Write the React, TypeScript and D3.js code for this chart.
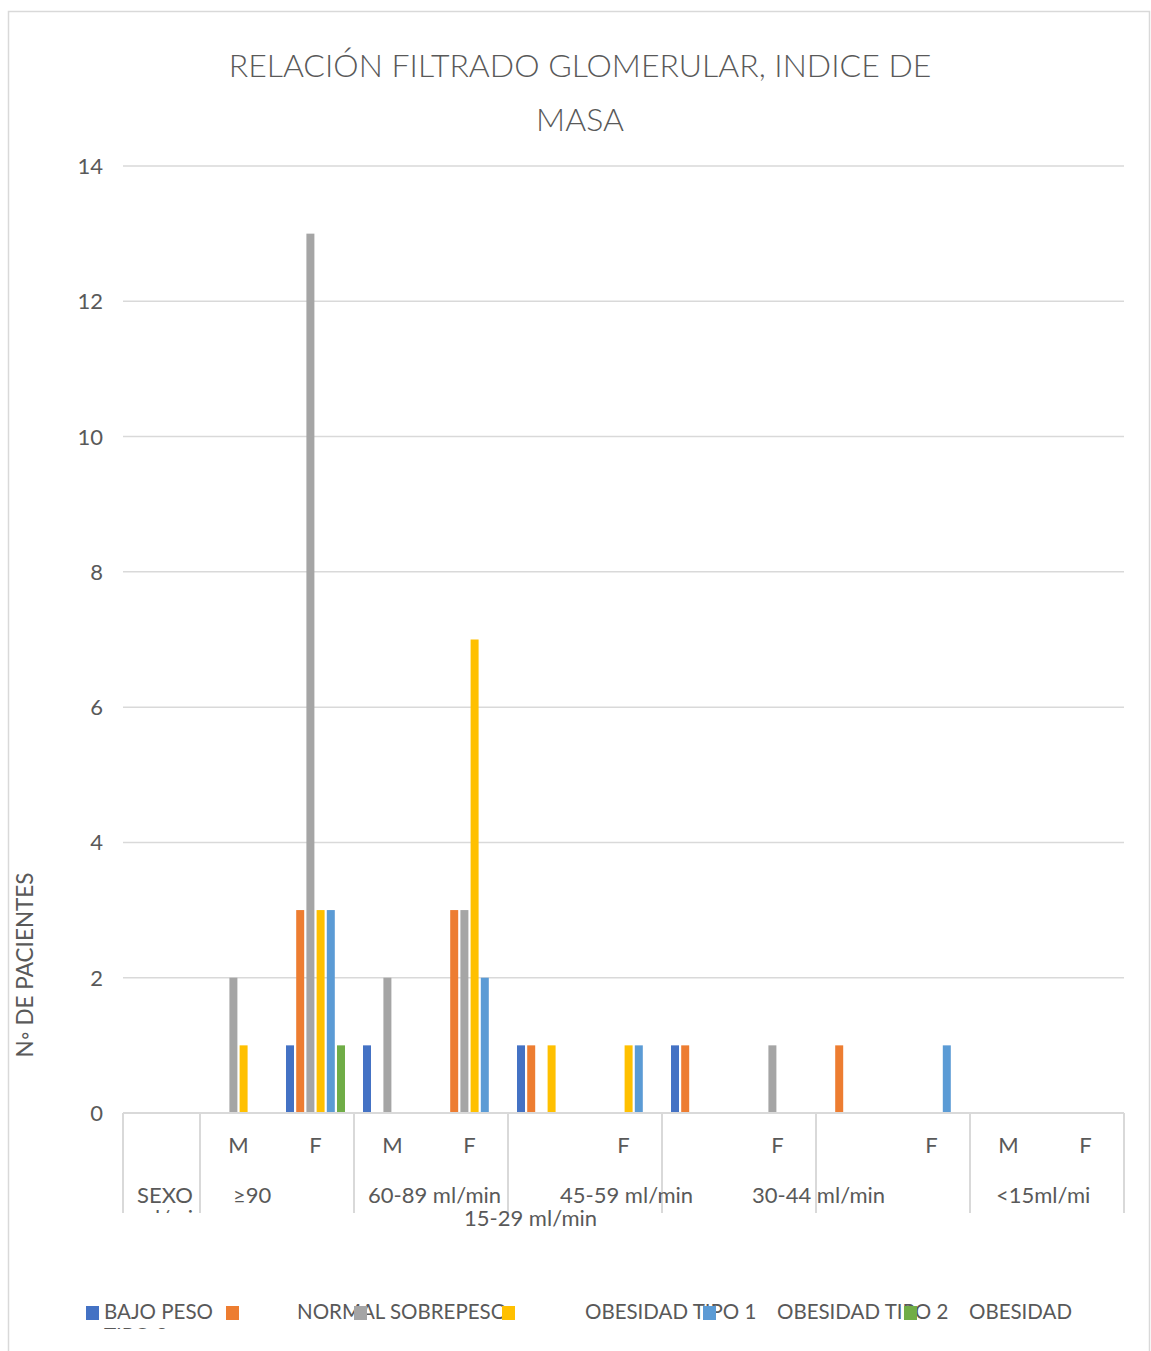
import React from "react";
import * as d3 from "d3";

const leafLabels = ["", "M", "F", "M", "F", "", "F", "", "F", "", "F", "M", "F"];
const seriesNames = ["BAJO PESO", "NORMAL", "SOBREPESO", "OBESIDAD TIPO 1", "OBESIDAD TIPO 2", "OBESIDAD TIPO 3"];
const seriesColors = ["#4472C4", "#ED7D31", "#A5A5A5", "#FFC000", "#5B9BD5", "#70AD47"];
const bajoPeso = [0, 0, 1, 1, 0, 1, 0, 1, 0, 0, 0, 0, 0];
const normal = [0, 0, 3, 0, 3, 1, 0, 1, 0, 1, 0, 0, 0];
const sobrepeso = [0, 2, 13, 2, 3, 0, 0, 0, 1, 0, 0, 0, 0];
const obesidad1 = [0, 1, 3, 0, 7, 1, 1, 0, 0, 0, 0, 0, 0];
const obesidad2 = [0, 0, 3, 0, 2, 0, 1, 0, 0, 0, 1, 0, 0];
const obesidad3 = [0, 0, 1, 0, 0, 0, 0, 0, 0, 0, 0, 0, 0];
const seriesValues = [bajoPeso, normal, sobrepeso, obesidad1, obesidad2, obesidad3];
const yTicks = [0, 2, 4, 6, 8, 10, 12, 14];
const groupBoundaries = [0, 1, 3, 5, 7, 9, 11, 13];
const groupLabels = ["SEXO", "≥90", "60-89 ml/min", "45-59 ml/min", "30-44 ml/min", "<15ml/mi"];
const secondRowLabel = "15-29 ml/min";
const titleLines = ["RELACIÓN FILTRADO GLOMERULAR, INDICE DE", "MASA"];
const yTitle = "N◦ DE PACIENTES";
const xTitle = "FILTRADO GLOMERULAR";

// layout (not data)
const W = 1151, H = 1351;
const plotL = 123, plotR = 1124, plotT = 166, plotB = 1113;
const groupLabelX = [137, 233, 368, 560, 752, 996];
const TXT = "#595959";
const GRID = "#d9d9d9";
const FONT = "Lato, 'Open Sans', sans-serif";

export default function App() {
  const x = d3.scaleBand<number>().domain(d3.range(leafLabels.length)).range([plotL, plotR]).padding(0);
  const inner = d3.scaleBand<number>().domain(d3.range(seriesNames.length)).range([9, 68]).paddingInner(0.216).paddingOuter(0);
  const y = d3.scaleLinear().domain([0, 14]).range([plotB, plotT]);
  const step = x.step();

  return (
    <svg width={W} height={H} style={{ position: "absolute", left: 0, top: 0, background: "#fff" }} fontFamily={FONT}>
      <defs>
        <clipPath id="axisClip"><rect x={0} y={0} width={W} height={1252} /></clipPath>
        <clipPath id="sexoClip"><rect x={0} y={0} width={W} height={1213} /></clipPath>
        <clipPath id="legClip"><rect x={0} y={0} width={W} height={1329} /></clipPath>
      </defs>
      <rect x={8.5} y={11.5} width={1141} height={1360} fill="#fff" stroke={GRID} strokeWidth={1.5} />
      {/* title */}
      {titleLines.map((t, i) => (
        <text key={i} x={580} y={77 + i * 54} textAnchor="middle" fontSize={32} fill={TXT} fontWeight={300}>{t}</text>
      ))}
      {/* gridlines */}
      {yTicks.map((t) => (
        <g key={t}>
          <line x1={plotL} x2={plotR} y1={y(t)} y2={y(t)} stroke={GRID} strokeWidth={1.5} />
          <text x={103} y={y(t) + 8} textAnchor="end" fontSize={22} fill={TXT}>{t}</text>
        </g>
      ))}
      {/* bars */}
      {seriesValues.map((vals, s) => (
        <g key={s} fill={seriesColors[s]}>
          {vals.map((v, i) => v > 0 ? (
            <rect key={i} x={(x(i) as number) + (inner(s) as number)} y={y(v)} width={inner.bandwidth()} height={y(0) - y(v)} />
          ) : null)}
        </g>
      ))}
      {/* axis */}
      <line x1={plotL} x2={plotR} y1={plotB} y2={plotB} stroke={GRID} strokeWidth={2} />
      {groupBoundaries.map((b, i) => {
        const bx = plotL + b * step;
        return <line key={i} x1={bx} x2={bx} y1={plotB} y2={1213} stroke={GRID} strokeWidth={2} />;
      })}
      {leafLabels.map((l, i) => (
        <text key={i} x={(x(i) as number) + step / 2} y={1153} textAnchor="middle" fontSize={22} fill={TXT}>{l}</text>
      ))}
      {groupLabels.map((g, i) => (
        <text key={i} x={groupLabelX[i]} y={1203} fontSize={22} fill={TXT}>{g}</text>
      ))}
      <text x={137} y={1226} fontSize={22} fill={TXT} clipPath="url(#sexoClip)">ml/min</text>
      <text x={464} y={1226} fontSize={22} fill={TXT}>{secondRowLabel}</text>
      <text x={771} y={1268} textAnchor="middle" fontSize={22} fill={TXT} clipPath="url(#axisClip)">{xTitle}</text>
      {/* y title */}
      <text transform="translate(33,965) rotate(-90)" textAnchor="middle" fontSize={22.5} fill={TXT}>{yTitle}</text>
      {/* legend (reproducing the overlapped layout) */}
      <g fontSize={20.5} fill={TXT}>
        <text x={104} y={1319}>{seriesNames[0]}</text>
        <text x={297} y={1319}>{seriesNames[1]} {seriesNames[2]}</text>
        <text x={585} y={1319}>{seriesNames[3]}</text>
        <text x={777} y={1319}>{seriesNames[4]}</text>
        <text x={969} y={1319}>OBESIDAD</text>
        <text x={104} y={1343} clipPath="url(#legClip)">TIPO 3</text>
      </g>
      {[86, 226, 354, 502, 703, 904].map((lx, i) => (
        <rect key={i} x={lx} y={1306} width={13} height={14} fill={seriesColors[i]} />
      ))}
    </svg>
  );
}
